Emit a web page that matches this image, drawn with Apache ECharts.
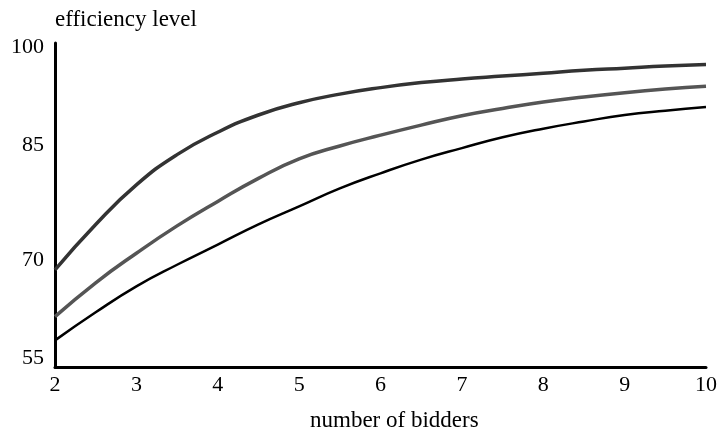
<!DOCTYPE html>
<html>
<head>
<meta charset="utf-8">
<script src="https://cdn.jsdelivr.net/npm/echarts@6/dist/echarts.min.js"></script>
<style>
  html, body { margin: 0; padding: 0; background: #fff; }
  #chart { width: 720px; height: 434px; }
</style>
</head>
<body>
<div id="chart"></div>
<script>
// number of bidders (x samples)
const bidders = [2, 2.5, 3, 3.5, 4, 4.5, 5, 5.5, 6, 6.5, 7, 7.5, 8, 8.5, 9, 9.5, 10];

// efficiency level for the three curves
const topCurve = [68.5, 74.8, 80.3, 84.5, 87.6, 90.0, 91.7, 92.9, 93.8, 94.5, 95.0, 95.4, 95.8, 96.2, 96.5, 96.8, 97.0];
const midCurve = [62.0, 66.7, 70.8, 74.6, 78.0, 81.2, 83.9, 85.7, 87.2, 88.6, 89.9, 90.9, 91.8, 92.5, 93.1, 93.6, 94.0];
const lowCurve = [58.7, 62.6, 66.2, 69.2, 72.0, 74.8, 77.3, 79.8, 81.9, 83.8, 85.4, 86.9, 88.1, 89.1, 90.0, 90.6, 91.1];

// y tick labels are drawn a little inside the ticks in the original
const yLabelShift = { 100: [8, 0, 0, 0], 85: [0, 0, 12, 0], 70: [2, 0, 0, 0], 55: [0, 0, 18, 0] };

const FONT = '"Liberation Serif", "DejaVu Serif", serif';

const pairs = ys => bidders.map((x, i) => [x, ys[i]]);

const chart = echarts.init(document.getElementById('chart'));

const lineSeries = (data, color, width) => ({
  type: 'line',
  data: pairs(data),
  smooth: true,
  symbol: 'none',
  lineStyle: { color: color, width: width },
  silent: true
});

const yRich = {};
Object.keys(yLabelShift).forEach(k => {
  yRich['v' + k] = { fontFamily: FONT, fontSize: 22, color: '#000', padding: yLabelShift[k] };
});

chart.setOption({
  animation: false,
  grid: { left: 55, right: 12, top: 43, bottom: 67 },
  xAxis: {
    type: 'value',
    min: 2,
    max: 10,
    interval: 1,
    axisLine: { lineStyle: { color: '#000', width: 3 } },
    axisTick: { show: false },
    splitLine: { show: false },
    axisLabel: { fontFamily: FONT, fontSize: 22, color: '#000', margin: 7 }
  },
  yAxis: {
    type: 'value',
    min: 55,
    max: 100,
    interval: 15,
    axisLine: { show: true, lineStyle: { color: '#000', width: 3 } },
    axisTick: { show: false },
    splitLine: { show: false },
    axisLabel: {
      fontFamily: FONT, fontSize: 22, color: '#000', margin: 11,
      formatter: v => '{v' + v + '|' + v + '}',
      rich: yRich
    }
  },
  graphic: [{
    type: 'text',
    left: 55,
    top: 8,
    style: { text: 'efficiency level', font: '23px ' + FONT, fill: '#000' }
  }, {
    type: 'text',
    left: 310,
    top: 409,
    style: { text: 'number of bidders', font: '23px ' + FONT, fill: '#000' }
  }],
  series: [
    lineSeries(topCurve, '#333333', 3.5),
    lineSeries(midCurve, '#555555', 3.5),
    lineSeries(lowCurve, '#000000', 2.5)
  ]
});
</script>
</body>
</html>
